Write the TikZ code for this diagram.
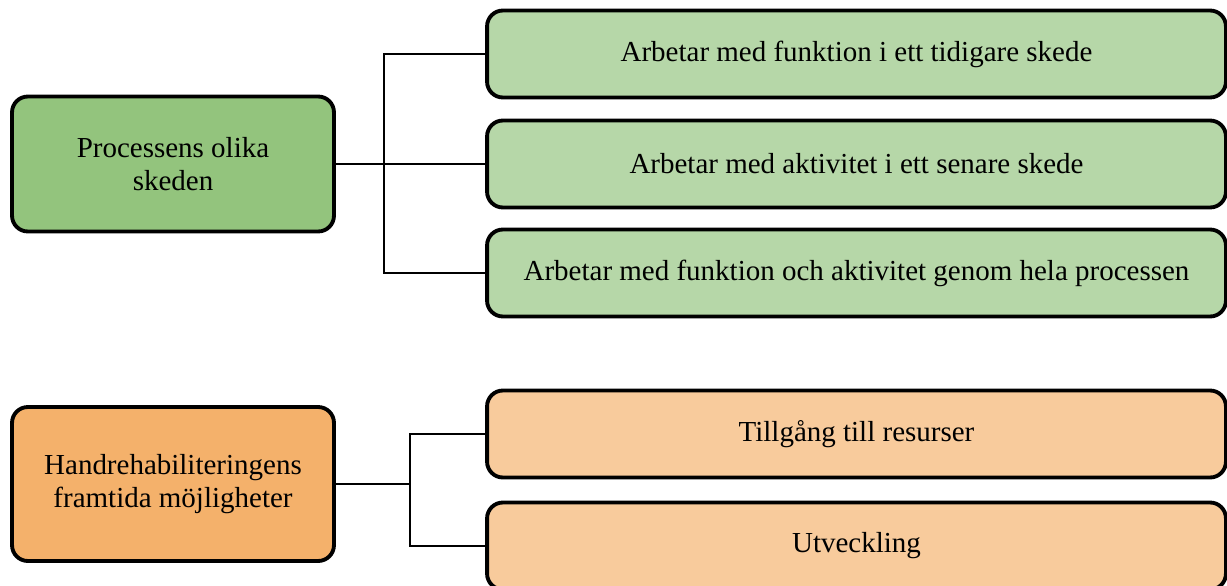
\documentclass[tikz,border=0pt]{standalone}
\usepackage{fontspec}
\setmainfont{Liberation Serif}
\usetikzlibrary{positioning,calc}

\definecolor{stagedark}{RGB}{147,196,125}
\definecolor{stagelight}{RGB}{182,215,168}
\definecolor{futuredark}{RGB}{244,177,107}
\definecolor{futurelight}{RGB}{248,203,156}

\begin{document}
\begin{tikzpicture}
          [ x=0.02cm, y=-0.02cm,
            element/.style={
              rectangle,
              draw,
              line width=2.2pt,
              rounded corners=9pt,
              inner sep=0pt,
              align=center,
              font=\fontsize{16.5}{19}\selectfont},
            theme/.style={
              element,
              minimum width=6.44cm},
            item/.style={
              element,
              minimum width=14.78cm,
              minimum height=1.74cm},
            line/.style={
              draw,
              line width=0.8pt},
          ]

          \useasboundingbox (0,0) rectangle (1227,585);

          % Processens olika skeden
          \node (stages) [theme, fill=stagedark, minimum height=2.7cm] at (173,164) {Processens olika\\skeden};
          \node (early) [item, fill=stagelight] at (856.5,54) {Arbetar med funktion i ett tidigare skede};
          \node (late) [item, fill=stagelight] at (856.5,164) {Arbetar med aktivitet i ett senare skede};
          \node (whole) [item, fill=stagelight] at (856.5,273) {Arbetar med funktion och aktivitet genom hela processen};

          % Handrehabiliteringens framtida möjligheter
          \node (future) [theme, fill=futuredark, minimum height=3.08cm] at (173,484) {Handrehabiliteringens\\framtida möjligheter};
          \node (resources) [item, fill=futurelight] at (856.5,434) {Tillgång till resurser};
          \node (develop) [item, fill=futurelight] at (856.5,546) {Utveckling};

          \coordinate (split1) at (384,0);
          \coordinate (split2) at (410,0);

          \draw[line] (stages.east) -- (late.west);
          \draw[line] (early.west) -| (split1 |- whole.west) -- (whole.west);

          \draw[line] (future.east) -- (split2 |- future.east);
          \draw[line] (resources.west) -| (split2 |- develop.west) -- (develop.west);

        \end{tikzpicture}
\end{document}
